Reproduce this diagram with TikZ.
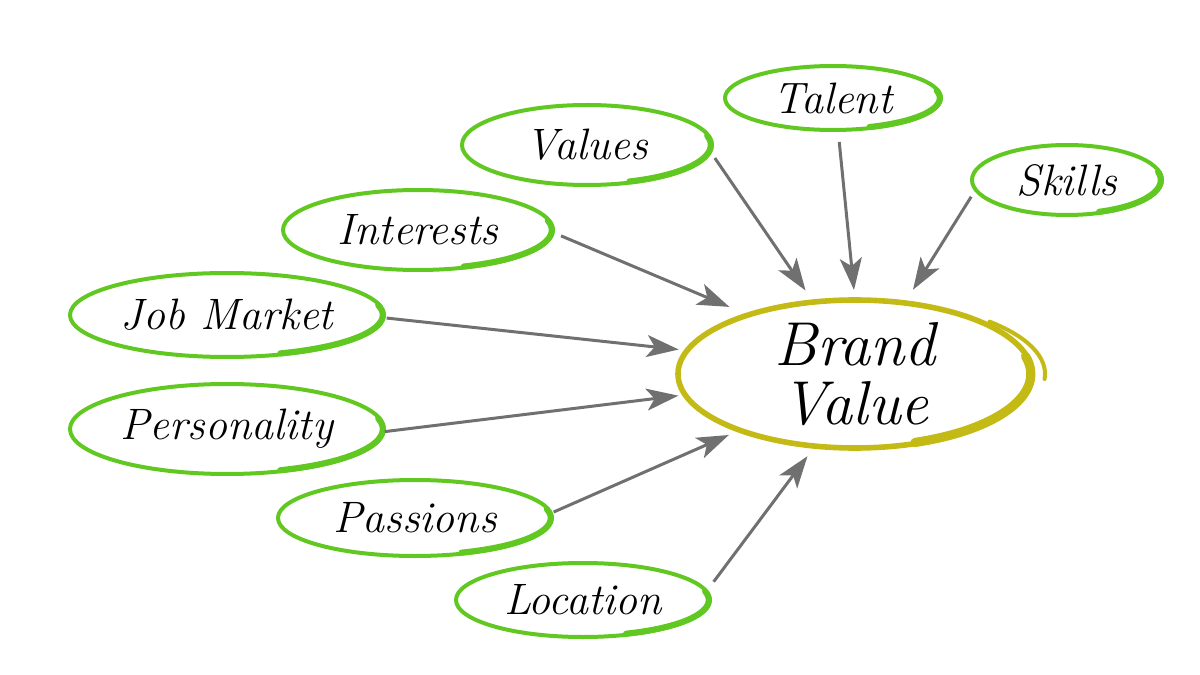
\documentclass[tikz,border=0pt]{standalone}
\usetikzlibrary{shapes.geometric,arrows.meta,positioning,calc}
\definecolor{leafgreen}{RGB}{96,200,32}
\definecolor{olive_ring}{RGB}{196,186,22}
\definecolor{arrowgray}{RGB}{112,112,112}
\begin{document}
\begin{tikzpicture}
	% Styles for the elements
	\tikzstyle{bubble} = [ellipse, draw=leafgreen, line width=2pt, inner sep=0pt, outer sep=0pt, font=\fontsize{22}{24}\selectfont\itshape]
	\tikzstyle{core}   = [ellipse, draw=olive_ring, line width=2.8pt, inner sep=0pt, outer sep=0pt, align=center, minimum width=177pt, minimum height=74pt, font=\fontsize{31}{29.5}\selectfont\itshape]
	\tikzstyle{feed}   = [draw=arrowgray, line width=1.5pt, -{Stealth[length=16pt, width=11pt, inset=4pt]}]

	\useasboundingbox (-427.5pt,-150.5pt) rectangle (172.5pt,187pt);

	% The centre ring
	\node[core] (brand_value) {Brand\\Value};

	% Bubbles on top
	\node[bubble, minimum width=108pt, minimum height=32pt] (bubble_talent)    [above of=brand_value,   node distance=138pt, xshift=-11pt]  {Talent};
	\node[bubble, minimum width=125pt, minimum height=40pt] (bubble_values)    [left of=bubble_talent,  node distance=123pt, yshift=-23.5pt] {Values};
	\node[bubble, minimum width=95pt,  minimum height=35pt] (bubble_skills)    [right of=bubble_talent, node distance=117pt, yshift=-41pt]   {Skills};
	\node[bubble, minimum width=135pt, minimum height=40pt] (bubble_interests) [left of=bubble_values,  node distance=84.5pt, yshift=-42.5pt] {Interests};

	% Bubbles on the left and below
	\node[bubble, minimum width=157pt, minimum height=42pt] (bubble_job)         [left of=brand_value, node distance=314pt, yshift=29.5pt] {Job Market};
	\node[bubble, minimum width=157pt, minimum height=45pt] (bubble_personality) [below of=bubble_job, node distance=57pt]              {Personality};
	\node[bubble, minimum width=137pt, minimum height=38pt] (bubble_passions)    [right of=bubble_personality, node distance=94pt, yshift=-44.5pt] {Passions};
	\node[bubble, minimum width=127pt, minimum height=37pt] (bubble_location)    [right of=bubble_passions, node distance=84pt, yshift=-41pt]     {Location};

	% Heavier brush on the right side of every ring
	\foreach \ring/\col/\wd in {bubble_talent/leafgreen/3pt, bubble_values/leafgreen/3pt, bubble_skills/leafgreen/3pt, bubble_interests/leafgreen/3pt, bubble_job/leafgreen/3pt, bubble_personality/leafgreen/3pt, bubble_passions/leafgreen/3pt, bubble_location/leafgreen/3pt, brand_value/olive_ring/4.6pt}
		\draw[\col, line width=\wd, line cap=round] let \p1=($(\ring.east)-(\ring.center)$), \p2=($(\ring.north)-(\ring.center)$) in
			($(\ring.center)+({(\x1-0.6pt)*cos(-70)},{(\y2-0.6pt)*sin(-70)})$) arc[start angle=-70, end angle=14, x radius=\x1-0.6pt, y radius=\y2-0.6pt];

	% Thin tail where the centre ring overshoots
	\draw[olive_ring, line width=2pt, line cap=round] ([shift={(67.2pt,26.2pt)}]brand_value.center) arc[start angle=45, end angle=-4, x radius=95pt, y radius=37pt];

	% Arrows into the ring
	\foreach \src/\from/\to/\gapa/\gapb in {bubble_values/-3.5/120.8/4pt/7pt, bubble_talent/-81/90/6pt/5pt, bubble_skills/-174.3/55.8/4.2pt/7.8pt, bubble_interests/-1.2/151.1/4.5pt/10.3pt, bubble_job/-1.1/172.3/1.5pt/4.3pt, bubble_personality/-1.1/-173.2/0.5pt/3.4pt, bubble_passions/2.5/-154.3/1.5pt/6pt, bubble_location/4.2/-119.5/6pt/6.3pt}
		\draw[feed, shorten <=\gapa, shorten >=\gapb] (\src.\from) -- (brand_value.\to);

\end{tikzpicture}
\end{document}
